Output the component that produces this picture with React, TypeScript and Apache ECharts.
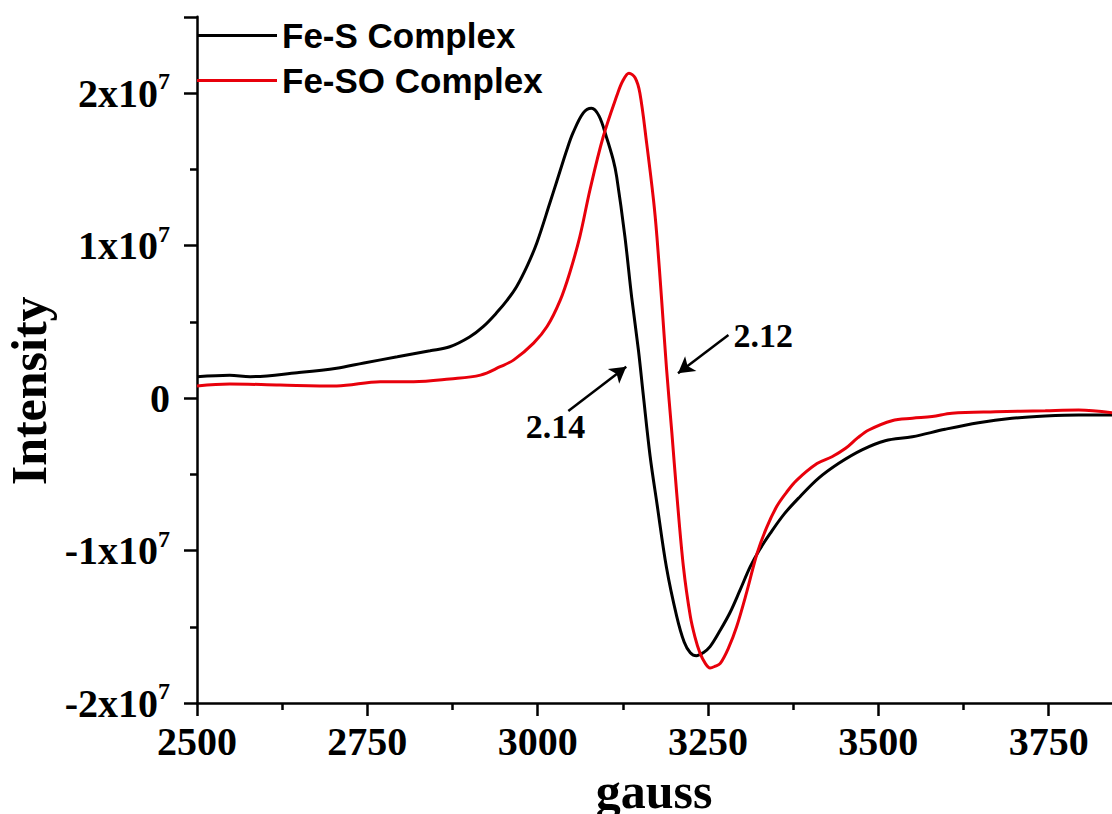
import React, { useEffect, useRef } from "react";
import * as echarts from "echarts";

// Field (gauss) and intensity (in units of 1e7)
const feSX = [2500, 2548, 2578, 2647, 2705, 2745, 2794, 2842, 2871, 2900, 2920, 2940, 2955, 2969, 2985, 2999, 3018, 3028, 3043, 3052, 3067, 3079, 3090, 3101, 3111, 3116, 3128, 3138, 3148, 3155, 3165, 3175, 3189, 3204, 3215, 3224, 3233, 3243, 3253, 3267, 3282, 3297, 3312, 3325, 3341, 3362, 3385, 3412, 3442, 3476, 3510, 3550, 3598, 3647, 3696, 3745, 3794, 3843];
const feSY = [0.14, 0.15, 0.14, 0.166, 0.195, 0.23, 0.27, 0.31, 0.336, 0.4, 0.468, 0.56, 0.64, 0.73, 0.87, 1.02, 1.28, 1.42, 1.63, 1.74, 1.87, 1.9, 1.85, 1.71, 1.56, 1.45, 1.06, 0.66, 0.31, 0.02, -0.38, -0.69, -1.11, -1.43, -1.6, -1.67, -1.69, -1.67, -1.63, -1.53, -1.41, -1.26, -1.106, -1.0, -0.89, -0.76, -0.647, -0.527, -0.428, -0.34, -0.28, -0.254, -0.205, -0.162, -0.133, -0.118, -0.111, -0.111];

const feSOX = [2500, 2548, 2622, 2705, 2769, 2818, 2871, 2916, 2945, 2965, 2994, 3014, 3033, 3047, 3062, 3077, 3096, 3116, 3125, 3134, 3143, 3150, 3160, 3170, 3175, 3182, 3189, 3197, 3204, 3214, 3224, 3231, 3238, 3246, 3253, 3260, 3268, 3280, 3292, 3307, 3322, 3336, 3351, 3365, 3380, 3410, 3432, 3452, 3470, 3486, 3520, 3550, 3579, 3608, 3672, 3745, 3794, 3843];
const feSOY = [0.079, 0.092, 0.085, 0.079, 0.107, 0.107, 0.125, 0.15, 0.205, 0.25, 0.36, 0.47, 0.64, 0.82, 1.06, 1.37, 1.71, 1.98, 2.08, 2.13, 2.1, 2.0, 1.67, 1.3, 1.06, 0.64, 0.2, -0.23, -0.62, -1.11, -1.43, -1.57, -1.67, -1.74, -1.77, -1.76, -1.74, -1.64, -1.5, -1.27, -1.02, -0.85, -0.71, -0.62, -0.54, -0.43, -0.385, -0.33, -0.26, -0.21, -0.149, -0.133, -0.122, -0.1, -0.09, -0.083, -0.079, -0.096];

const seriesNames = ["Fe-S Complex", "Fe-SO Complex"];
const xTicks = [2500, 2750, 3000, 3250, 3500, 3750];
const yTicks = [-2, -1, 0, 1, 2];

// annotation arrows: [tail, head] in data coords
const arrow214 = [[3045, -0.085], [3130, 0.205]];
const arrow212 = [[3280, 0.413], [3206, 0.162]];
const labels = [
  { name: "2.14", coord: [3026, -0.19] },
  { name: "2.12", coord: [3331, 0.413] },
];

const serif = "'Liberation Serif', 'Times New Roman', serif";
const sans = "'Liberation Sans', Arial, sans-serif";

export default function App() {
  const ref = useRef<HTMLDivElement>(null);
  useEffect(() => {
    if (!ref.current) return;
    const chart = echarts.init(ref.current, undefined, { renderer: "svg" });
    const zip = (xs: number[], ys: number[]) => xs.map((x, i) => [x, ys[i]]);
    chart.setOption({
      animation: false,
      backgroundColor: "#fff",
      grid: { left: 197, width: 1022, top: 16.75, height: 686.25, outerBoundsMode: "none", containLabel: false },
      legend: {
        data: seriesNames.map((n) => ({ name: n, icon: "rect" })),
        orient: "vertical",
        left: 197,
        top: 18,
        padding: 0,
        itemGap: 10,
        itemWidth: 80,
        itemHeight: 3,
        textStyle: { fontFamily: sans, fontWeight: "bold", fontSize: 35, color: "#000" },
      },
      xAxis: {
        type: "value",
        min: 2500,
        max: 4000,
        interval: 250,
        name: "gauss",
        nameLocation: "middle",
        nameGap: 53,
        nameTextStyle: { fontFamily: serif, fontWeight: "bold", fontSize: 50, lineHeight: 40, color: "#000", padding: [0, 108, 0, 0] },
        axisLine: { show: true, onZero: false, lineStyle: { color: "#000", width: 2.5 } },
        axisTick: { show: true, inside: false, length: 13, lineStyle: { color: "#000", width: 2.5 } },
        minorTick: { show: true, splitNumber: 2, length: 7, lineStyle: { color: "#000", width: 2.5 } },
        splitLine: { show: false },
        axisLabel: {
          margin: 18,
          showMaxLabel: false,
          fontFamily: serif,
          fontWeight: "bold",
          fontSize: 40,
          color: "#000",
          formatter: (v: number) => (xTicks.includes(v) ? String(v) : ""),
        },
      },
      yAxis: {
        type: "value",
        min: -2,
        max: 2.5,
        interval: 1,
        name: "Intensity",
        nameLocation: "middle",
        nameGap: 123,
        nameTextStyle: { fontFamily: serif, fontWeight: "bold", fontSize: 50, color: "#000", padding: [0, 62, 0, 0] },
        axisLine: { show: true, onZero: false, lineStyle: { color: "#000", width: 2.5 } },
        axisTick: { show: true, inside: false, length: 13, lineStyle: { color: "#000", width: 2.5 } },
        minorTick: { show: true, splitNumber: 2, length: 7, lineStyle: { color: "#000", width: 2.5 } },
        splitLine: { show: false },
        axisLabel: {
          margin: 27,
          showMaxLabel: false,
          color: "#000",
          fontFamily: serif,
          fontWeight: "bold",
          fontSize: 40,
          formatter: (v: number) => {
            if (!yTicks.includes(v)) return "";
            if (v === 0) return "{b|0}";
            return `{b|${v}x10}{s|7}`;
          },
          rich: {
            b: { fontFamily: serif, fontWeight: "bold", fontSize: 40, color: "#000" },
            s: { fontFamily: serif, fontWeight: "bold", fontSize: 24, color: "#000", padding: [0, 0, 24, 0] },
          },
        },
      },
      series: [
        {
          name: seriesNames[0],
          type: "line",
          data: zip(feSX, feSY),
          symbol: "none",
          smooth: 0.35,
          lineStyle: { color: "#000", width: 3 },
          itemStyle: { color: "#000" },
          markLine: {
            silent: true,
            symbol: ["none", "arrow"],
            symbolSize: [14, 16],
            label: { show: false },
            lineStyle: { color: "#000", width: 2.5, type: "solid" },
            data: [
              [{ coord: arrow214[0] }, { coord: arrow214[1] }],
              [{ coord: arrow212[0] }, { coord: arrow212[1] }],
            ],
          },
        },
        {
          name: seriesNames[1],
          type: "line",
          data: zip(feSOX, feSOY),
          symbol: "none",
          smooth: 0.35,
          lineStyle: { color: "#e8000b", width: 3 },
          itemStyle: { color: "#e8000b" },
          markPoint: {
            silent: true,
            symbol: "rect",
            symbolSize: 1,
            itemStyle: { color: "transparent" },
            label: {
              show: true,
              position: "inside",
              formatter: (p: any) => p.name,
              fontFamily: serif,
              fontWeight: "bold",
              fontSize: 34,
              color: "#000",
            },
            data: labels.map((l) => ({ name: l.name, coord: l.coord })),
          },
        },
      ],
    });
    return () => chart.dispose();
  }, []);
  return <div ref={ref} style={{ position: "fixed", left: 0, top: 0, width: 1112, height: 814, background: "#fff" }} />;
}
